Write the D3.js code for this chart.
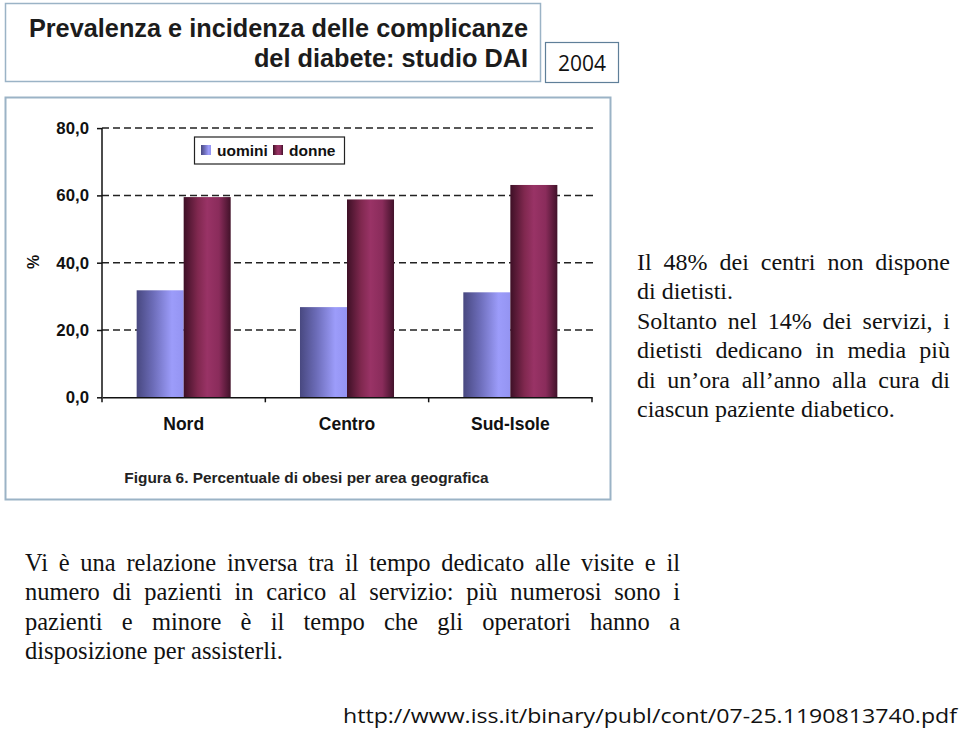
<!DOCTYPE html>
<html><head><meta charset="utf-8">
<script src="https://cdn.jsdelivr.net/npm/d3@7"></script>
<style>html,body{margin:0;padding:0;background:#fff}svg{display:block}</style>
</head><body>
<script>
const categories = ["Nord", "Centro", "Sud-Isole"];
const seriesNames = ["uomini", "donne"];
const uomini = [31.8, 26.8, 31.2];
const donne = [59.5, 58.8, 63.1];
const yTicks = [0, 20, 40, 60, 80];
const titleLines = ["Prevalenza e incidenza delle complicanze", "del diabete: studio DAI"];
const yearLabel = "2004";
const yAxisLabel = "%";
const caption = "Figura 6. Percentuale di obesi per area geografica";
const sideText = [
  ["Il 48% dei centri non dispone", true],
  ["di dietisti.", false],
  ["Soltanto nel 14% dei servizi, i", true],
  ["dietisti dedicano in media più", true],
  ["di un’ora all’anno alla cura di", true],
  ["ciascun paziente diabetico.", false]
];
const bottomText = [
  ["Vi è una relazione inversa tra il tempo dedicato alle visite e il", true],
  ["numero di pazienti in carico al servizio: più numerosi sono i", true],
  ["pazienti e minore è il tempo che gli operatori hanno a", true],
  ["disposizione per assisterli.", false]
];
const sourceUrl = "http://www.iss.it/binary/publ/cont/07-25.1190813740.pdf";

const W = 960, H = 729;
const svg = d3.select("body").append("svg").attr("width", W).attr("height", H);
const defs = svg.append("defs");

function grad(id, stops) {
  const g = defs.append("linearGradient").attr("id", id).attr("x1", "0").attr("x2", "1").attr("y1", "0").attr("y2", "0");
  stops.forEach(s => g.append("stop").attr("offset", s[0]).attr("stop-color", s[1]));
}
grad("gU", [["0%", "#484880"], ["35%", "#6c6cb8"], ["75%", "#9c9cfa"], ["100%", "#9494f2"]]);
grad("gD", [["0%", "#3e1026"], ["30%", "#80284f"], ["50%", "#993366"], ["75%", "#8a2c5b"], ["100%", "#42122a"]]);
const fills = {uomini: "url(#gU)", donne: "url(#gD)"};

// boxes
svg.append("rect").attr("x", 5.5).attr("y", 3.5).attr("width", 535).attr("height", 78)
  .attr("fill", "#fff").attr("stroke", "#9bb3c6").attr("stroke-width", 1.5);
svg.append("rect").attr("x", 545.5).attr("y", 42.5).attr("width", 73).attr("height", 40)
  .attr("fill", "#fff").attr("stroke", "#5f7f99").attr("stroke-width", 1.2);
svg.append("rect").attr("x", 5.5).attr("y", 97.5).attr("width", 605).attr("height", 402)
  .attr("fill", "#fff").attr("stroke", "#9bb3c6").attr("stroke-width", 2);

// title
svg.append("g").selectAll("text").data(titleLines).join("text")
  .attr("x", 528).attr("y", (d, i) => 37 + i * 29.5)
  .attr("text-anchor", "end")
  .attr("font-family", "Liberation Sans, Arial, sans-serif")
  .attr("font-weight", "bold").attr("font-size", 25.3).attr("fill", "#1c1c1c")
  .text(d => d);

svg.append("text").attr("x", 582).attr("y", 71).attr("text-anchor", "middle")
  .attr("font-family", "Open Sans, sans-serif").attr("font-size", 21).attr("fill", "#111")
  .text(yearLabel);

// chart
const x0 = d3.scaleBand().domain(categories).range([102, 592]).paddingInner(0).paddingOuter(0);
const x1 = d3.scaleBand().domain(seriesNames).range([0, x0.bandwidth()]).paddingInner(0).paddingOuter(0.737);
const y = d3.scaleLinear().domain([0, 80]).range([397.3, 128.1]);
const series = {uomini, donne};

const font = "Liberation Sans, Arial, sans-serif";

// gridlines
svg.append("g").selectAll("line").data(yTicks.filter(v => v > 0)).join("line")
  .attr("x1", 102).attr("x2", 595).attr("y1", d => y(d)).attr("y2", d => y(d))
  .attr("stroke", "#222").attr("stroke-width", 1.5).attr("stroke-dasharray", "7,4");

// bars
const rows = categories.map((c, i) => seriesNames.map(s => ({c, s, v: series[s][i]}))).flat();
svg.append("g").selectAll("rect").data(rows).join("rect")
  .attr("x", d => x0(d.c) + x1(d.s)).attr("width", x1.bandwidth())
  .attr("y", d => y(d.v)).attr("height", d => y(0) - y(d.v))
  .attr("fill", d => fills[d.s]);

// y axis
const yAxis = d3.axisLeft(y).tickValues(yTicks).tickSize(5).tickSizeOuter(0)
  .tickFormat(d => d3.format(".1f")(d).replace(".", ","));
const gy = svg.append("g").attr("transform", "translate(102,0)").call(yAxis);
gy.select(".domain").attr("stroke", "#111").attr("stroke-width", 1.5).attr("d", `M0,${y(80)}V${y(0)}`);
gy.selectAll(".tick line").attr("stroke", "#111").attr("stroke-width", 1.5);
gy.selectAll(".tick text").attr("x", -13).attr("font-family", font).attr("font-weight", "bold")
  .attr("font-size", 16.8).attr("fill", "#111");

// x axis
const xAxis = d3.axisBottom(x0).tickSize(0).tickSizeOuter(0).tickPadding(20);
const gx = svg.append("g").attr("transform", `translate(0,${y(0)})`).call(xAxis);
gx.select(".domain").attr("stroke", "#111").attr("stroke-width", 1.5);
gx.selectAll(".tick text").attr("font-family", font).attr("font-weight", "bold")
  .attr("font-size", 17.5).attr("fill", "#111").attr("dy", "0.71em");
const bounds = [...categories.map(c => x0(c)), x0.range()[1]];
gx.append("g").selectAll("line").data(bounds).join("line")
  .attr("x1", d => d).attr("x2", d => d).attr("y1", 0).attr("y2", 5)
  .attr("stroke", "#111").attr("stroke-width", 1.5);

svg.append("text").attr("transform", "translate(39,262) rotate(-90)")
  .attr("text-anchor", "middle").attr("font-family", font).attr("font-weight", "bold")
  .attr("font-size", 16).attr("fill", "#111").text(yAxisLabel);

// legend
svg.append("rect").attr("x", 194.5).attr("y", 137).attr("width", 150).attr("height", 27)
  .attr("fill", "#fff").attr("stroke", "#222").attr("stroke-width", 1.2);
const legX = [201, 273], legTX = [217, 289];
seriesNames.forEach((s, i) => {
  svg.append("rect").attr("x", legX[i]).attr("y", 145).attr("width", 10).attr("height", 10).attr("fill", fills[s]);
  svg.append("text").attr("x", legTX[i]).attr("y", 156).attr("font-family", font).attr("font-weight", "bold")
    .attr("font-size", 15.5).attr("fill", "#111").text(s);
});

// caption
svg.append("text").attr("x", 306.5).attr("y", 483).attr("text-anchor", "middle")
  .attr("font-family", font).attr("font-weight", "bold").attr("font-size", 15.4).attr("fill", "#222")
  .text(caption);

// justified paragraphs
function paragraph(lines, x, width, y0, lh, size) {
  const g = svg.append("g").attr("font-family", "Liberation Serif, Times New Roman, serif")
    .attr("font-size", size).attr("fill", "#111");
  lines.forEach(([txt, just], i) => {
    const t = g.append("text").attr("y", y0 + i * lh);
    const words = txt.split(" ");
    if (!just) { t.attr("x", x).text(txt); return; }
    const spans = words.map(w => t.append("tspan").text(w));
    const ws = spans.map(s => s.node().getComputedTextLength());
    const gap = (width - d3.sum(ws)) / (words.length - 1);
    let cx = x;
    spans.forEach((s, k) => { s.attr("x", cx); cx += ws[k] + gap; });
  });
}
paragraph(sideText, 637, 313, 269.5, 29.5, 24);
paragraph(bottomText, 25, 655, 570.5, 29.6, 24.5);

svg.append("text").attr("x", 343).attr("y", 723)
  .attr("font-family", "Open Sans, sans-serif").attr("font-size", 20).attr("fill", "#111")
  .attr("textLength", 614).attr("lengthAdjust", "spacingAndGlyphs")
  .text(sourceUrl);
</script>
</body></html>
